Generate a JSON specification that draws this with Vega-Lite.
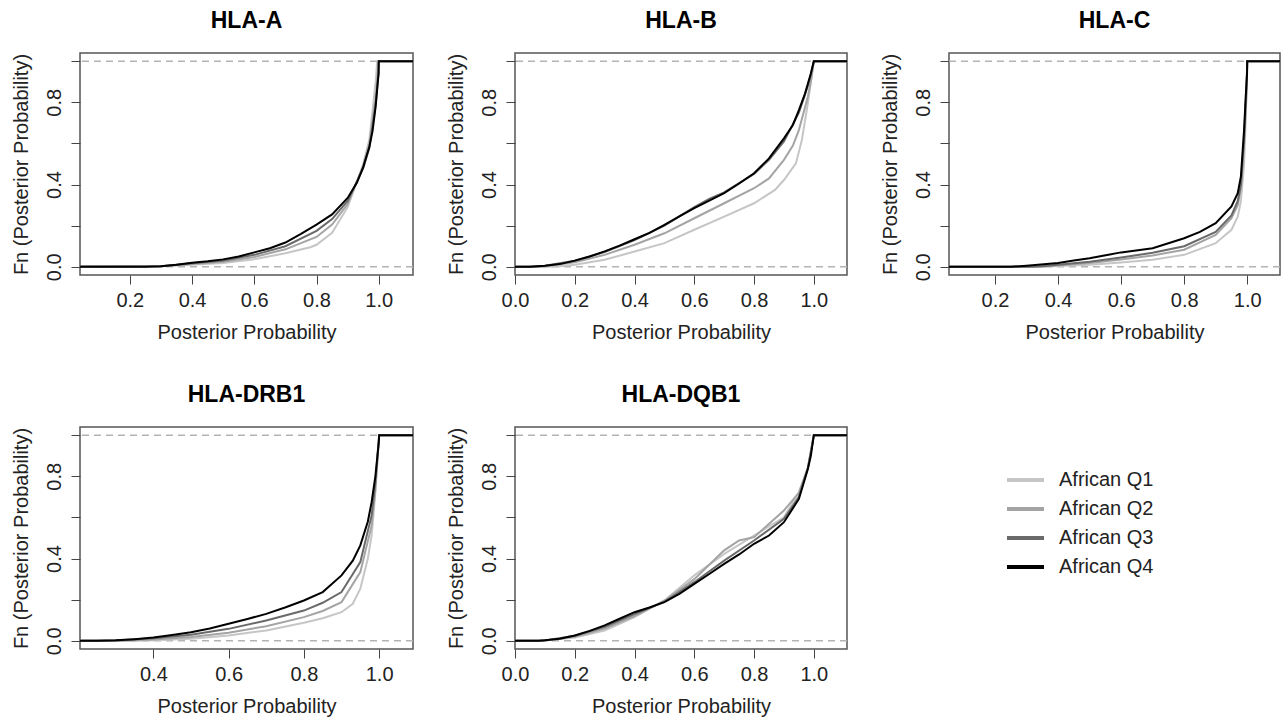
{
  "$schema": "https://vega.github.io/schema/vega-lite/v6.json",
  "background": "white",
  "padding": {"left": 10, "top": 9, "right": 0, "bottom": 0},
  "datasets": {
    "ecdf": [
      {"panel":"HLA-A","series":"African Q1","x":-0.1,"y":0},{"panel":"HLA-A","series":"African Q1","x":0.3,"y":0.002},{"panel":"HLA-A","series":"African Q1","x":0.4,"y":0.01},{"panel":"HLA-A","series":"African Q1","x":0.5,"y":0.018},{"panel":"HLA-A","series":"African Q1","x":0.6,"y":0.037},{"panel":"HLA-A","series":"African Q1","x":0.7,"y":0.066},{"panel":"HLA-A","series":"African Q1","x":0.78,"y":0.095},{"panel":"HLA-A","series":"African Q1","x":0.8,"y":0.107},{"panel":"HLA-A","series":"African Q1","x":0.85,"y":0.165},{"panel":"HLA-A","series":"African Q1","x":0.9,"y":0.29},{"panel":"HLA-A","series":"African Q1","x":0.95,"y":0.5},{"panel":"HLA-A","series":"African Q1","x":0.97,"y":0.62},{"panel":"HLA-A","series":"African Q1","x":0.99,"y":0.9},{"panel":"HLA-A","series":"African Q1","x":0.995,"y":1},{"panel":"HLA-A","series":"African Q1","x":1.2,"y":1},
      {"panel":"HLA-A","series":" African Q2","x":-0.1,"y":0},{"panel":"HLA-A","series":" African Q2","x":0.3,"y":0.002},{"panel":"HLA-A","series":" African Q2","x":0.4,"y":0.013},{"panel":"HLA-A","series":" African Q2","x":0.5,"y":0.025},{"panel":"HLA-A","series":" African Q2","x":0.6,"y":0.048},{"panel":"HLA-A","series":" African Q2","x":0.7,"y":0.085},{"panel":"HLA-A","series":" African Q2","x":0.8,"y":0.145},{"panel":"HLA-A","series":" African Q2","x":0.85,"y":0.205},{"panel":"HLA-A","series":" African Q2","x":0.9,"y":0.305},{"panel":"HLA-A","series":" African Q2","x":0.95,"y":0.49},{"panel":"HLA-A","series":" African Q2","x":0.97,"y":0.6},{"panel":"HLA-A","series":" African Q2","x":0.99,"y":0.82},{"panel":"HLA-A","series":" African Q2","x":0.997,"y":0.95},{"panel":"HLA-A","series":" African Q2","x":1.0,"y":1},{"panel":"HLA-A","series":" African Q2","x":1.2,"y":1},
      {"panel":"HLA-A","series":"African Q3","x":-0.1,"y":0},{"panel":"HLA-A","series":"African Q3","x":0.3,"y":0.003},{"panel":"HLA-A","series":"African Q3","x":0.4,"y":0.017},{"panel":"HLA-A","series":"African Q3","x":0.5,"y":0.03},{"panel":"HLA-A","series":"African Q3","x":0.6,"y":0.058},{"panel":"HLA-A","series":"African Q3","x":0.7,"y":0.1},{"panel":"HLA-A","series":"African Q3","x":0.8,"y":0.175},{"panel":"HLA-A","series":"African Q3","x":0.85,"y":0.232},{"panel":"HLA-A","series":"African Q3","x":0.9,"y":0.32},{"panel":"HLA-A","series":"African Q3","x":0.95,"y":0.48},{"panel":"HLA-A","series":"African Q3","x":0.97,"y":0.58},{"panel":"HLA-A","series":"African Q3","x":0.99,"y":0.79},{"panel":"HLA-A","series":"African Q3","x":0.999,"y":0.94},{"panel":"HLA-A","series":"African Q3","x":1.0,"y":1},{"panel":"HLA-A","series":"African Q3","x":1.2,"y":1},
      {"panel":"HLA-A","series":"African Q4","x":-0.1,"y":0},{"panel":"HLA-A","series":"African Q4","x":0.25,"y":0},{"panel":"HLA-A","series":"African Q4","x":0.3,"y":0.003},{"panel":"HLA-A","series":"African Q4","x":0.35,"y":0.01},{"panel":"HLA-A","series":"African Q4","x":0.4,"y":0.02},{"panel":"HLA-A","series":"African Q4","x":0.45,"y":0.027},{"panel":"HLA-A","series":"African Q4","x":0.5,"y":0.036},{"panel":"HLA-A","series":"African Q4","x":0.55,"y":0.05},{"panel":"HLA-A","series":"African Q4","x":0.6,"y":0.07},{"panel":"HLA-A","series":"African Q4","x":0.65,"y":0.09},{"panel":"HLA-A","series":"African Q4","x":0.7,"y":0.118},{"panel":"HLA-A","series":"African Q4","x":0.75,"y":0.16},{"panel":"HLA-A","series":"African Q4","x":0.8,"y":0.205},{"panel":"HLA-A","series":"African Q4","x":0.85,"y":0.255},{"panel":"HLA-A","series":"African Q4","x":0.9,"y":0.335},{"panel":"HLA-A","series":"African Q4","x":0.93,"y":0.41},{"panel":"HLA-A","series":"African Q4","x":0.95,"y":0.485},{"panel":"HLA-A","series":"African Q4","x":0.97,"y":0.585},{"panel":"HLA-A","series":"African Q4","x":0.98,"y":0.66},{"panel":"HLA-A","series":"African Q4","x":0.99,"y":0.78},{"panel":"HLA-A","series":"African Q4","x":0.997,"y":0.9},{"panel":"HLA-A","series":"African Q4","x":0.9995,"y":0.94},{"panel":"HLA-A","series":"African Q4","x":1.0,"y":1},{"panel":"HLA-A","series":"African Q4","x":1.2,"y":1},

      {"panel":"HLA-B","series":"African Q1","x":-0.1,"y":0},{"panel":"HLA-B","series":"African Q1","x":0.1,"y":0},{"panel":"HLA-B","series":"African Q1","x":0.15,"y":0.003},{"panel":"HLA-B","series":"African Q1","x":0.2,"y":0.01},{"panel":"HLA-B","series":"African Q1","x":0.3,"y":0.034},{"panel":"HLA-B","series":"African Q1","x":0.4,"y":0.074},{"panel":"HLA-B","series":"African Q1","x":0.5,"y":0.115},{"panel":"HLA-B","series":"African Q1","x":0.6,"y":0.18},{"panel":"HLA-B","series":"African Q1","x":0.7,"y":0.244},{"panel":"HLA-B","series":"African Q1","x":0.8,"y":0.309},{"panel":"HLA-B","series":"African Q1","x":0.87,"y":0.374},{"panel":"HLA-B","series":"African Q1","x":0.9,"y":0.422},{"panel":"HLA-B","series":"African Q1","x":0.94,"y":0.503},{"panel":"HLA-B","series":"African Q1","x":0.96,"y":0.617},{"panel":"HLA-B","series":"African Q1","x":0.98,"y":0.795},{"panel":"HLA-B","series":"African Q1","x":0.99,"y":0.9},{"panel":"HLA-B","series":"African Q1","x":1.0,"y":1},{"panel":"HLA-B","series":"African Q1","x":1.2,"y":1},
      {"panel":"HLA-B","series":" African Q2","x":-0.1,"y":0},{"panel":"HLA-B","series":" African Q2","x":0.08,"y":0},{"panel":"HLA-B","series":" African Q2","x":0.1,"y":0.003},{"panel":"HLA-B","series":" African Q2","x":0.2,"y":0.022},{"panel":"HLA-B","series":" African Q2","x":0.3,"y":0.058},{"panel":"HLA-B","series":" African Q2","x":0.4,"y":0.107},{"panel":"HLA-B","series":" African Q2","x":0.5,"y":0.163},{"panel":"HLA-B","series":" African Q2","x":0.6,"y":0.236},{"panel":"HLA-B","series":" African Q2","x":0.7,"y":0.309},{"panel":"HLA-B","series":" African Q2","x":0.8,"y":0.382},{"panel":"HLA-B","series":" African Q2","x":0.85,"y":0.43},{"panel":"HLA-B","series":" African Q2","x":0.9,"y":0.52},{"panel":"HLA-B","series":" African Q2","x":0.93,"y":0.59},{"panel":"HLA-B","series":" African Q2","x":0.95,"y":0.665},{"panel":"HLA-B","series":" African Q2","x":0.98,"y":0.827},{"panel":"HLA-B","series":" African Q2","x":0.99,"y":0.9},{"panel":"HLA-B","series":" African Q2","x":1.0,"y":1},{"panel":"HLA-B","series":" African Q2","x":1.2,"y":1},
      {"panel":"HLA-B","series":"African Q3","x":-0.1,"y":0},{"panel":"HLA-B","series":"African Q3","x":0.05,"y":0},{"panel":"HLA-B","series":"African Q3","x":0.1,"y":0.005},{"panel":"HLA-B","series":"African Q3","x":0.2,"y":0.029},{"panel":"HLA-B","series":"African Q3","x":0.3,"y":0.072},{"panel":"HLA-B","series":"African Q3","x":0.4,"y":0.13},{"panel":"HLA-B","series":"African Q3","x":0.5,"y":0.2},{"panel":"HLA-B","series":"African Q3","x":0.6,"y":0.29},{"panel":"HLA-B","series":"African Q3","x":0.65,"y":0.33},{"panel":"HLA-B","series":"African Q3","x":0.7,"y":0.362},{"panel":"HLA-B","series":"African Q3","x":0.8,"y":0.452},{"panel":"HLA-B","series":"African Q3","x":0.85,"y":0.52},{"panel":"HLA-B","series":"African Q3","x":0.9,"y":0.61},{"panel":"HLA-B","series":"African Q3","x":0.95,"y":0.75},{"panel":"HLA-B","series":"African Q3","x":0.98,"y":0.88},{"panel":"HLA-B","series":"African Q3","x":0.99,"y":0.935},{"panel":"HLA-B","series":"African Q3","x":1.0,"y":1},{"panel":"HLA-B","series":"African Q3","x":1.2,"y":1},
      {"panel":"HLA-B","series":"African Q4","x":-0.1,"y":0},{"panel":"HLA-B","series":"African Q4","x":0.05,"y":0},{"panel":"HLA-B","series":"African Q4","x":0.1,"y":0.005},{"panel":"HLA-B","series":"African Q4","x":0.15,"y":0.013},{"panel":"HLA-B","series":"African Q4","x":0.2,"y":0.03},{"panel":"HLA-B","series":"African Q4","x":0.25,"y":0.05},{"panel":"HLA-B","series":"African Q4","x":0.3,"y":0.075},{"panel":"HLA-B","series":"African Q4","x":0.35,"y":0.103},{"panel":"HLA-B","series":"African Q4","x":0.4,"y":0.134},{"panel":"HLA-B","series":"African Q4","x":0.45,"y":0.165},{"panel":"HLA-B","series":"African Q4","x":0.5,"y":0.204},{"panel":"HLA-B","series":"African Q4","x":0.55,"y":0.245},{"panel":"HLA-B","series":"African Q4","x":0.6,"y":0.285},{"panel":"HLA-B","series":"African Q4","x":0.65,"y":0.322},{"panel":"HLA-B","series":"African Q4","x":0.7,"y":0.358},{"panel":"HLA-B","series":"African Q4","x":0.75,"y":0.405},{"panel":"HLA-B","series":"African Q4","x":0.8,"y":0.455},{"panel":"HLA-B","series":"African Q4","x":0.85,"y":0.527},{"panel":"HLA-B","series":"African Q4","x":0.9,"y":0.625},{"panel":"HLA-B","series":"African Q4","x":0.93,"y":0.69},{"panel":"HLA-B","series":"African Q4","x":0.95,"y":0.762},{"panel":"HLA-B","series":"African Q4","x":0.97,"y":0.84},{"panel":"HLA-B","series":"African Q4","x":0.98,"y":0.89},{"panel":"HLA-B","series":"African Q4","x":0.99,"y":0.94},{"panel":"HLA-B","series":"African Q4","x":1.0,"y":1},{"panel":"HLA-B","series":"African Q4","x":1.2,"y":1},

      {"panel":"HLA-C","series":"African Q1","x":-0.1,"y":0},{"panel":"HLA-C","series":"African Q1","x":0.35,"y":0},{"panel":"HLA-C","series":"African Q1","x":0.4,"y":0.004},{"panel":"HLA-C","series":"African Q1","x":0.5,"y":0.01},{"panel":"HLA-C","series":"African Q1","x":0.6,"y":0.021},{"panel":"HLA-C","series":"African Q1","x":0.7,"y":0.034},{"panel":"HLA-C","series":"African Q1","x":0.8,"y":0.058},{"panel":"HLA-C","series":"African Q1","x":0.9,"y":0.115},{"panel":"HLA-C","series":"African Q1","x":0.95,"y":0.18},{"panel":"HLA-C","series":"African Q1","x":0.97,"y":0.244},{"panel":"HLA-C","series":"African Q1","x":0.98,"y":0.32},{"panel":"HLA-C","series":"African Q1","x":0.99,"y":0.5},{"panel":"HLA-C","series":"African Q1","x":0.995,"y":0.7},{"panel":"HLA-C","series":"African Q1","x":1.0,"y":1},{"panel":"HLA-C","series":"African Q1","x":1.2,"y":1},
      {"panel":"HLA-C","series":" African Q2","x":-0.1,"y":0},{"panel":"HLA-C","series":" African Q2","x":0.33,"y":0},{"panel":"HLA-C","series":" African Q2","x":0.4,"y":0.007},{"panel":"HLA-C","series":" African Q2","x":0.5,"y":0.018},{"panel":"HLA-C","series":" African Q2","x":0.6,"y":0.035},{"panel":"HLA-C","series":" African Q2","x":0.7,"y":0.055},{"panel":"HLA-C","series":" African Q2","x":0.8,"y":0.083},{"panel":"HLA-C","series":" African Q2","x":0.9,"y":0.155},{"panel":"HLA-C","series":" African Q2","x":0.95,"y":0.236},{"panel":"HLA-C","series":" African Q2","x":0.97,"y":0.3},{"panel":"HLA-C","series":" African Q2","x":0.98,"y":0.38},{"panel":"HLA-C","series":" African Q2","x":0.99,"y":0.6},{"panel":"HLA-C","series":" African Q2","x":0.998,"y":0.85},{"panel":"HLA-C","series":" African Q2","x":1.0,"y":1},{"panel":"HLA-C","series":" African Q2","x":1.2,"y":1},
      {"panel":"HLA-C","series":"African Q3","x":-0.1,"y":0},{"panel":"HLA-C","series":"African Q3","x":0.3,"y":0},{"panel":"HLA-C","series":"African Q3","x":0.35,"y":0.003},{"panel":"HLA-C","series":"African Q3","x":0.4,"y":0.01},{"panel":"HLA-C","series":"African Q3","x":0.5,"y":0.025},{"panel":"HLA-C","series":"African Q3","x":0.6,"y":0.045},{"panel":"HLA-C","series":"African Q3","x":0.7,"y":0.068},{"panel":"HLA-C","series":"African Q3","x":0.8,"y":0.1},{"panel":"HLA-C","series":"African Q3","x":0.9,"y":0.17},{"panel":"HLA-C","series":"African Q3","x":0.95,"y":0.25},{"panel":"HLA-C","series":"African Q3","x":0.97,"y":0.32},{"panel":"HLA-C","series":"African Q3","x":0.98,"y":0.4},{"panel":"HLA-C","series":"African Q3","x":0.99,"y":0.62},{"panel":"HLA-C","series":"African Q3","x":0.999,"y":0.93},{"panel":"HLA-C","series":"African Q3","x":1.0,"y":1},{"panel":"HLA-C","series":"African Q3","x":1.2,"y":1},
      {"panel":"HLA-C","series":"African Q4","x":-0.1,"y":0},{"panel":"HLA-C","series":"African Q4","x":0.25,"y":0},{"panel":"HLA-C","series":"African Q4","x":0.3,"y":0.005},{"panel":"HLA-C","series":"African Q4","x":0.4,"y":0.018},{"panel":"HLA-C","series":"African Q4","x":0.45,"y":0.03},{"panel":"HLA-C","series":"African Q4","x":0.5,"y":0.042},{"panel":"HLA-C","series":"African Q4","x":0.6,"y":0.07},{"panel":"HLA-C","series":"African Q4","x":0.7,"y":0.09},{"panel":"HLA-C","series":"African Q4","x":0.8,"y":0.139},{"panel":"HLA-C","series":"African Q4","x":0.85,"y":0.17},{"panel":"HLA-C","series":"African Q4","x":0.9,"y":0.212},{"panel":"HLA-C","series":"African Q4","x":0.95,"y":0.293},{"panel":"HLA-C","series":"African Q4","x":0.97,"y":0.358},{"panel":"HLA-C","series":"African Q4","x":0.98,"y":0.44},{"panel":"HLA-C","series":"African Q4","x":0.99,"y":0.665},{"panel":"HLA-C","series":"African Q4","x":0.995,"y":0.82},{"panel":"HLA-C","series":"African Q4","x":0.9995,"y":0.94},{"panel":"HLA-C","series":"African Q4","x":1.0,"y":1},{"panel":"HLA-C","series":"African Q4","x":1.2,"y":1},

      {"panel":"HLA-DRB1","series":"African Q1","x":-0.1,"y":0},{"panel":"HLA-DRB1","series":"African Q1","x":0.35,"y":0},{"panel":"HLA-DRB1","series":"African Q1","x":0.4,"y":0.003},{"panel":"HLA-DRB1","series":"African Q1","x":0.5,"y":0.01},{"panel":"HLA-DRB1","series":"African Q1","x":0.6,"y":0.026},{"panel":"HLA-DRB1","series":"African Q1","x":0.7,"y":0.05},{"panel":"HLA-DRB1","series":"African Q1","x":0.8,"y":0.088},{"panel":"HLA-DRB1","series":"African Q1","x":0.85,"y":0.11},{"panel":"HLA-DRB1","series":"African Q1","x":0.9,"y":0.139},{"panel":"HLA-DRB1","series":"African Q1","x":0.93,"y":0.18},{"panel":"HLA-DRB1","series":"African Q1","x":0.95,"y":0.253},{"panel":"HLA-DRB1","series":"African Q1","x":0.97,"y":0.4},{"panel":"HLA-DRB1","series":"African Q1","x":0.98,"y":0.512},{"panel":"HLA-DRB1","series":"African Q1","x":0.99,"y":0.72},{"panel":"HLA-DRB1","series":"African Q1","x":1.0,"y":1},{"panel":"HLA-DRB1","series":"African Q1","x":1.2,"y":1},
      {"panel":"HLA-DRB1","series":" African Q2","x":-0.1,"y":0},{"panel":"HLA-DRB1","series":" African Q2","x":0.3,"y":0},{"panel":"HLA-DRB1","series":" African Q2","x":0.35,"y":0.002},{"panel":"HLA-DRB1","series":" African Q2","x":0.4,"y":0.006},{"panel":"HLA-DRB1","series":" African Q2","x":0.5,"y":0.018},{"panel":"HLA-DRB1","series":" African Q2","x":0.6,"y":0.039},{"panel":"HLA-DRB1","series":" African Q2","x":0.7,"y":0.071},{"panel":"HLA-DRB1","series":" African Q2","x":0.8,"y":0.115},{"panel":"HLA-DRB1","series":" African Q2","x":0.85,"y":0.145},{"panel":"HLA-DRB1","series":" African Q2","x":0.9,"y":0.188},{"panel":"HLA-DRB1","series":" African Q2","x":0.95,"y":0.334},{"panel":"HLA-DRB1","series":" African Q2","x":0.98,"y":0.56},{"panel":"HLA-DRB1","series":" African Q2","x":0.99,"y":0.74},{"panel":"HLA-DRB1","series":" African Q2","x":1.0,"y":1},{"panel":"HLA-DRB1","series":" African Q2","x":1.2,"y":1},
      {"panel":"HLA-DRB1","series":"African Q3","x":-0.1,"y":0},{"panel":"HLA-DRB1","series":"African Q3","x":0.27,"y":0},{"panel":"HLA-DRB1","series":"African Q3","x":0.3,"y":0.001},{"panel":"HLA-DRB1","series":"African Q3","x":0.4,"y":0.012},{"panel":"HLA-DRB1","series":"African Q3","x":0.5,"y":0.029},{"panel":"HLA-DRB1","series":"African Q3","x":0.6,"y":0.058},{"panel":"HLA-DRB1","series":"African Q3","x":0.7,"y":0.099},{"panel":"HLA-DRB1","series":"African Q3","x":0.8,"y":0.147},{"panel":"HLA-DRB1","series":"African Q3","x":0.85,"y":0.185},{"panel":"HLA-DRB1","series":"African Q3","x":0.9,"y":0.237},{"panel":"HLA-DRB1","series":"African Q3","x":0.95,"y":0.383},{"panel":"HLA-DRB1","series":"African Q3","x":0.98,"y":0.61},{"panel":"HLA-DRB1","series":"African Q3","x":0.99,"y":0.77},{"panel":"HLA-DRB1","series":"African Q3","x":1.0,"y":1},{"panel":"HLA-DRB1","series":"African Q3","x":1.2,"y":1},
      {"panel":"HLA-DRB1","series":"African Q4","x":-0.1,"y":0},{"panel":"HLA-DRB1","series":"African Q4","x":0.25,"y":0},{"panel":"HLA-DRB1","series":"African Q4","x":0.3,"y":0.002},{"panel":"HLA-DRB1","series":"African Q4","x":0.35,"y":0.008},{"panel":"HLA-DRB1","series":"African Q4","x":0.4,"y":0.016},{"panel":"HLA-DRB1","series":"African Q4","x":0.45,"y":0.028},{"panel":"HLA-DRB1","series":"African Q4","x":0.5,"y":0.042},{"panel":"HLA-DRB1","series":"African Q4","x":0.55,"y":0.06},{"panel":"HLA-DRB1","series":"African Q4","x":0.6,"y":0.083},{"panel":"HLA-DRB1","series":"African Q4","x":0.65,"y":0.106},{"panel":"HLA-DRB1","series":"African Q4","x":0.7,"y":0.131},{"panel":"HLA-DRB1","series":"African Q4","x":0.75,"y":0.162},{"panel":"HLA-DRB1","series":"African Q4","x":0.8,"y":0.196},{"panel":"HLA-DRB1","series":"African Q4","x":0.85,"y":0.237},{"panel":"HLA-DRB1","series":"African Q4","x":0.9,"y":0.318},{"panel":"HLA-DRB1","series":"African Q4","x":0.93,"y":0.39},{"panel":"HLA-DRB1","series":"African Q4","x":0.95,"y":0.464},{"panel":"HLA-DRB1","series":"African Q4","x":0.97,"y":0.58},{"panel":"HLA-DRB1","series":"African Q4","x":0.98,"y":0.674},{"panel":"HLA-DRB1","series":"African Q4","x":0.99,"y":0.8},{"panel":"HLA-DRB1","series":"African Q4","x":0.9995,"y":0.974},{"panel":"HLA-DRB1","series":"African Q4","x":1.0,"y":1},{"panel":"HLA-DRB1","series":"African Q4","x":1.2,"y":1},

      {"panel":"HLA-DQB1","series":"African Q1","x":-0.1,"y":0},{"panel":"HLA-DQB1","series":"African Q1","x":0.08,"y":0},{"panel":"HLA-DQB1","series":"African Q1","x":0.1,"y":0.001},{"panel":"HLA-DQB1","series":"African Q1","x":0.2,"y":0.016},{"panel":"HLA-DQB1","series":"African Q1","x":0.3,"y":0.05},{"panel":"HLA-DQB1","series":"African Q1","x":0.4,"y":0.115},{"panel":"HLA-DQB1","series":"African Q1","x":0.5,"y":0.196},{"panel":"HLA-DQB1","series":"African Q1","x":0.6,"y":0.318},{"panel":"HLA-DQB1","series":"African Q1","x":0.7,"y":0.423},{"panel":"HLA-DQB1","series":"African Q1","x":0.8,"y":0.512},{"panel":"HLA-DQB1","series":"African Q1","x":0.9,"y":0.601},{"panel":"HLA-DQB1","series":"African Q1","x":0.95,"y":0.723},{"panel":"HLA-DQB1","series":"African Q1","x":0.98,"y":0.84},{"panel":"HLA-DQB1","series":"African Q1","x":1.0,"y":1},{"panel":"HLA-DQB1","series":"African Q1","x":1.2,"y":1},
      {"panel":"HLA-DQB1","series":" African Q2","x":-0.1,"y":0},{"panel":"HLA-DQB1","series":" African Q2","x":0.08,"y":0},{"panel":"HLA-DQB1","series":" African Q2","x":0.1,"y":0.001},{"panel":"HLA-DQB1","series":" African Q2","x":0.2,"y":0.02},{"panel":"HLA-DQB1","series":" African Q2","x":0.3,"y":0.06},{"panel":"HLA-DQB1","series":" African Q2","x":0.4,"y":0.12},{"panel":"HLA-DQB1","series":" African Q2","x":0.5,"y":0.195},{"panel":"HLA-DQB1","series":" African Q2","x":0.6,"y":0.3},{"panel":"HLA-DQB1","series":" African Q2","x":0.7,"y":0.44},{"panel":"HLA-DQB1","series":" African Q2","x":0.75,"y":0.488},{"panel":"HLA-DQB1","series":" African Q2","x":0.8,"y":0.504},{"panel":"HLA-DQB1","series":" African Q2","x":0.9,"y":0.634},{"panel":"HLA-DQB1","series":" African Q2","x":0.95,"y":0.72},{"panel":"HLA-DQB1","series":" African Q2","x":0.98,"y":0.84},{"panel":"HLA-DQB1","series":" African Q2","x":1.0,"y":1},{"panel":"HLA-DQB1","series":" African Q2","x":1.2,"y":1},
      {"panel":"HLA-DQB1","series":"African Q3","x":-0.1,"y":0},{"panel":"HLA-DQB1","series":"African Q3","x":0.08,"y":0},{"panel":"HLA-DQB1","series":"African Q3","x":0.1,"y":0.002},{"panel":"HLA-DQB1","series":"African Q3","x":0.2,"y":0.024},{"panel":"HLA-DQB1","series":"African Q3","x":0.3,"y":0.068},{"panel":"HLA-DQB1","series":"African Q3","x":0.4,"y":0.13},{"panel":"HLA-DQB1","series":"African Q3","x":0.5,"y":0.19},{"panel":"HLA-DQB1","series":"African Q3","x":0.6,"y":0.285},{"panel":"HLA-DQB1","series":"African Q3","x":0.7,"y":0.39},{"panel":"HLA-DQB1","series":"African Q3","x":0.8,"y":0.488},{"panel":"HLA-DQB1","series":"African Q3","x":0.9,"y":0.593},{"panel":"HLA-DQB1","series":"African Q3","x":0.95,"y":0.7},{"panel":"HLA-DQB1","series":"African Q3","x":0.98,"y":0.84},{"panel":"HLA-DQB1","series":"African Q3","x":1.0,"y":1},{"panel":"HLA-DQB1","series":"African Q3","x":1.2,"y":1},
      {"panel":"HLA-DQB1","series":"African Q4","x":-0.1,"y":0},{"panel":"HLA-DQB1","series":"African Q4","x":0.08,"y":0},{"panel":"HLA-DQB1","series":"African Q4","x":0.1,"y":0.002},{"panel":"HLA-DQB1","series":"African Q4","x":0.15,"y":0.01},{"panel":"HLA-DQB1","series":"African Q4","x":0.2,"y":0.026},{"panel":"HLA-DQB1","series":"African Q4","x":0.25,"y":0.048},{"panel":"HLA-DQB1","series":"African Q4","x":0.3,"y":0.075},{"panel":"HLA-DQB1","series":"African Q4","x":0.35,"y":0.107},{"panel":"HLA-DQB1","series":"African Q4","x":0.4,"y":0.139},{"panel":"HLA-DQB1","series":"African Q4","x":0.45,"y":0.162},{"panel":"HLA-DQB1","series":"African Q4","x":0.5,"y":0.188},{"panel":"HLA-DQB1","series":"African Q4","x":0.55,"y":0.228},{"panel":"HLA-DQB1","series":"African Q4","x":0.6,"y":0.277},{"panel":"HLA-DQB1","series":"African Q4","x":0.65,"y":0.325},{"panel":"HLA-DQB1","series":"African Q4","x":0.7,"y":0.374},{"panel":"HLA-DQB1","series":"African Q4","x":0.75,"y":0.42},{"panel":"HLA-DQB1","series":"African Q4","x":0.8,"y":0.472},{"panel":"HLA-DQB1","series":"African Q4","x":0.85,"y":0.512},{"panel":"HLA-DQB1","series":"African Q4","x":0.9,"y":0.577},{"panel":"HLA-DQB1","series":"African Q4","x":0.95,"y":0.69},{"panel":"HLA-DQB1","series":"African Q4","x":0.98,"y":0.836},{"panel":"HLA-DQB1","series":"African Q4","x":0.99,"y":0.9},{"panel":"HLA-DQB1","series":"African Q4","x":1.0,"y":1},{"panel":"HLA-DQB1","series":"African Q4","x":1.2,"y":1}
    ]
  },
  "columns": 3,
  "spacing": {"row": 152, "column": 102},
  "bounds": "flush",
  "resolve": {"scale": {"x": "independent", "y": "independent", "color": "shared"}, "legend": {"color": "shared"}},
  "concat": [
    {
      "width": 333, "height": 222,
      "title": "HLA-A",
      "layer": [
        {"data": {"values": [{}]}, "mark": {"type": "rule", "color": "#b3b3b3", "strokeWidth": 1.5, "strokeDash": [7, 5]}, "encoding": {"y": {"datum": 0, "type": "quantitative"}}},
        {"data": {"values": [{}]}, "mark": {"type": "rule", "color": "#b3b3b3", "strokeWidth": 1.5, "strokeDash": [7, 5]}, "encoding": {"y": {"datum": 1, "type": "quantitative"}}},
        {
          "data": {"name": "ecdf"},
          "transform": [{"filter": "datum.panel === 'HLA-A'"}],
          "mark": {"type": "line", "clip": true, "strokeWidth": 2},
          "encoding": {
            "x": {"field": "x", "type": "quantitative", "scale": {"domain": [0.04, 1.11], "nice": false, "zero": false}, "axis": {"values": [0.2, 0.4, 0.6, 0.8, 1.0], "title": "Posterior Probability"}},
            "y": {"field": "y", "type": "quantitative", "scale": {"domain": [-0.04, 1.04], "nice": false, "zero": false}, "axis": {"values": [0, 0.2, 0.4, 0.6, 0.8, 1.0], "title": "Fn (Posterior Probability)"}},
            "color": {"field": "series", "type": "nominal", "scale": {"domain": ["African Q1", " African Q2", "African Q3", "African Q4"], "range": ["#c6c6c6", "#a4a4a4", "#6a6a6a", "#000000"]}, "legend": {"title": null}}
          }
        }
      ]
    },
    {
      "width": 332, "height": 222,
      "title": "HLA-B",
      "layer": [
        {"data": {"values": [{}]}, "mark": {"type": "rule", "color": "#b3b3b3", "strokeWidth": 1.5, "strokeDash": [7, 5]}, "encoding": {"y": {"datum": 0, "type": "quantitative"}}},
        {"data": {"values": [{}]}, "mark": {"type": "rule", "color": "#b3b3b3", "strokeWidth": 1.5, "strokeDash": [7, 5]}, "encoding": {"y": {"datum": 1, "type": "quantitative"}}},
        {
          "data": {"name": "ecdf"},
          "transform": [{"filter": "datum.panel === 'HLA-B'"}],
          "mark": {"type": "line", "clip": true, "strokeWidth": 2},
          "encoding": {
            "x": {"field": "x", "type": "quantitative", "scale": {"domain": [0.0, 1.111], "nice": false, "zero": false}, "axis": {"values": [0.0, 0.2, 0.4, 0.6, 0.8, 1.0], "title": "Posterior Probability"}},
            "y": {"field": "y", "type": "quantitative", "scale": {"domain": [-0.04, 1.04], "nice": false, "zero": false}, "axis": {"values": [0, 0.2, 0.4, 0.6, 0.8, 1.0], "title": "Fn (Posterior Probability)"}},
            "color": {"field": "series", "type": "nominal", "scale": {"domain": ["African Q1", " African Q2", "African Q3", "African Q4"], "range": ["#c6c6c6", "#a4a4a4", "#6a6a6a", "#000000"]}, "legend": {"title": null}}
          }
        }
      ]
    },
    {
      "width": 331, "height": 222,
      "title": "HLA-C",
      "layer": [
        {"data": {"values": [{}]}, "mark": {"type": "rule", "color": "#b3b3b3", "strokeWidth": 1.5, "strokeDash": [7, 5]}, "encoding": {"y": {"datum": 0, "type": "quantitative"}}},
        {"data": {"values": [{}]}, "mark": {"type": "rule", "color": "#b3b3b3", "strokeWidth": 1.5, "strokeDash": [7, 5]}, "encoding": {"y": {"datum": 1, "type": "quantitative"}}},
        {
          "data": {"name": "ecdf"},
          "transform": [{"filter": "datum.panel === 'HLA-C'"}],
          "mark": {"type": "line", "clip": true, "strokeWidth": 2},
          "encoding": {
            "x": {"field": "x", "type": "quantitative", "scale": {"domain": [0.054, 1.104], "nice": false, "zero": false}, "axis": {"values": [0.2, 0.4, 0.6, 0.8, 1.0], "title": "Posterior Probability"}},
            "y": {"field": "y", "type": "quantitative", "scale": {"domain": [-0.04, 1.04], "nice": false, "zero": false}, "axis": {"values": [0, 0.2, 0.4, 0.6, 0.8, 1.0], "title": "Fn (Posterior Probability)"}},
            "color": {"field": "series", "type": "nominal", "scale": {"domain": ["African Q1", " African Q2", "African Q3", "African Q4"], "range": ["#c6c6c6", "#a4a4a4", "#6a6a6a", "#000000"]}, "legend": {"title": null}}
          }
        }
      ]
    },
    {
      "width": 333, "height": 222,
      "title": "HLA-DRB1",
      "layer": [
        {"data": {"values": [{}]}, "mark": {"type": "rule", "color": "#b3b3b3", "strokeWidth": 1.5, "strokeDash": [7, 5]}, "encoding": {"y": {"datum": 0, "type": "quantitative"}}},
        {"data": {"values": [{}]}, "mark": {"type": "rule", "color": "#b3b3b3", "strokeWidth": 1.5, "strokeDash": [7, 5]}, "encoding": {"y": {"datum": 1, "type": "quantitative"}}},
        {
          "data": {"name": "ecdf"},
          "transform": [{"filter": "datum.panel === 'HLA-DRB1'"}],
          "mark": {"type": "line", "clip": true, "strokeWidth": 2},
          "encoding": {
            "x": {"field": "x", "type": "quantitative", "scale": {"domain": [0.205, 1.09], "nice": false, "zero": false}, "axis": {"values": [0.4, 0.6, 0.8, 1.0], "title": "Posterior Probability"}},
            "y": {"field": "y", "type": "quantitative", "scale": {"domain": [-0.04, 1.04], "nice": false, "zero": false}, "axis": {"values": [0, 0.2, 0.4, 0.6, 0.8, 1.0], "title": "Fn (Posterior Probability)"}},
            "color": {"field": "series", "type": "nominal", "scale": {"domain": ["African Q1", " African Q2", "African Q3", "African Q4"], "range": ["#c6c6c6", "#a4a4a4", "#6a6a6a", "#000000"]}, "legend": {"title": null}}
          }
        }
      ]
    },
    {
      "width": 332, "height": 222,
      "title": "HLA-DQB1",
      "layer": [
        {"data": {"values": [{}]}, "mark": {"type": "rule", "color": "#b3b3b3", "strokeWidth": 1.5, "strokeDash": [7, 5]}, "encoding": {"y": {"datum": 0, "type": "quantitative"}}},
        {"data": {"values": [{}]}, "mark": {"type": "rule", "color": "#b3b3b3", "strokeWidth": 1.5, "strokeDash": [7, 5]}, "encoding": {"y": {"datum": 1, "type": "quantitative"}}},
        {
          "data": {"name": "ecdf"},
          "transform": [{"filter": "datum.panel === 'HLA-DQB1'"}],
          "mark": {"type": "line", "clip": true, "strokeWidth": 2},
          "encoding": {
            "x": {"field": "x", "type": "quantitative", "scale": {"domain": [0.0, 1.111], "nice": false, "zero": false}, "axis": {"values": [0.0, 0.2, 0.4, 0.6, 0.8, 1.0], "title": "Posterior Probability"}},
            "y": {"field": "y", "type": "quantitative", "scale": {"domain": [-0.04, 1.04], "nice": false, "zero": false}, "axis": {"values": [0, 0.2, 0.4, 0.6, 0.8, 1.0], "title": "Fn (Posterior Probability)"}},
            "color": {"field": "series", "type": "nominal", "scale": {"domain": ["African Q1", " African Q2", "African Q3", "African Q4"], "range": ["#c6c6c6", "#a4a4a4", "#6a6a6a", "#000000"]}, "legend": {"title": null}}
          }
        }
      ]
    }
  ],
  "config": {
    "font": "Liberation Sans",
    "view": {"stroke": "#555555", "strokeWidth": 1.5},
    "title": {"fontSize": 23, "fontWeight": "bold", "color": "#000000", "anchor": "middle", "frame": "group", "baseline": "alphabetic", "offset": 20},
    "axis": {"domain": false, "grid": false, "ticks": true, "tickSize": 9, "tickColor": "#444444", "tickWidth": 1, "labelFontSize": 20, "labelColor": "#222222", "titleFontSize": 20, "titleFontWeight": "normal", "titleColor": "#222222", "labelOverlap": false, "labelFlush": false, "format": ".1f"},
    "axisX": {"labelBaseline": "middle", "labelPadding": 16, "titleBaseline": "middle", "titleY": 57},
    "axisY": {"labelAngle": -90, "labelAlign": "center", "labelBaseline": "middle", "labelPadding": 17, "titleAngle": -90, "titleBaseline": "middle", "titleAlign": "center", "titleX": -59, "titleY": 111,
      "labelExpr": "(abs(datum.value) < 0.001 || abs(datum.value - 0.4) < 0.001 || abs(datum.value - 0.8) < 0.001) ? format(datum.value, '.1f') : ''"},
    "legend": {"orient": "none", "legendX": 925, "legendY": 416, "symbolType": "stroke", "symbolSize": 1369, "symbolStrokeWidth": 4, "labelFontSize": 20, "labelColor": "#222222", "labelOffset": 13, "clipHeight": 22, "rowPadding": 7, "padding": 0, "labelLimit": 300}
  }
}
